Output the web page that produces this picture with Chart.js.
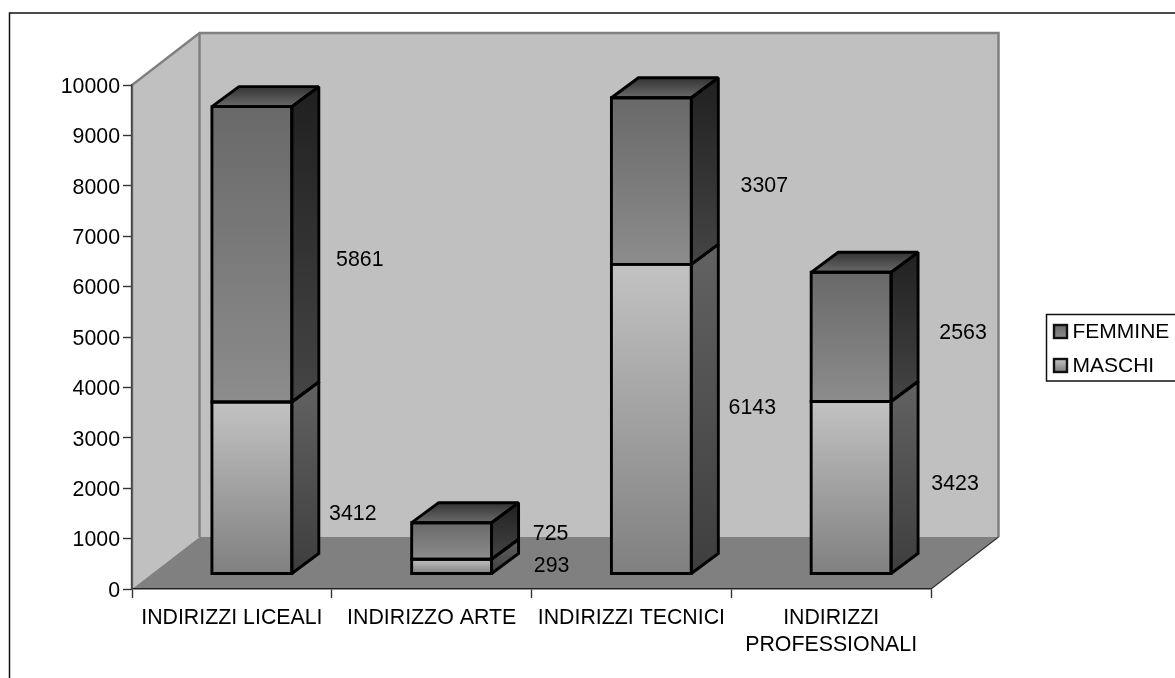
<!DOCTYPE html>
<html>
<head>
<meta charset="utf-8">
<style>html,body{margin:0;padding:0;background:#fff;overflow:hidden}#w{position:relative;width:1175px;height:678px}</style>
<script src="https://cdn.jsdelivr.net/npm/chart.js@4"></script>
</head>
<body>
<div id="w"><canvas id="c" width="1175" height="678"></canvas></div>
<script>
const categories = ['INDIRIZZI LICEALI', 'INDIRIZZO ARTE', 'INDIRIZZI TECNICI', ['INDIRIZZI', 'PROFESSIONALI']];
const seriesNames = ['MASCHI', 'FEMMINE'];
const maschi = [3412, 293, 6143, 3423];
const femmine = [5861, 725, 3307, 2563];
const yTicksMax = 10000;
const yTickStep = 1000;

// style and layout constants
const FONT = 'Liberation Sans, Arial, sans-serif';
const FS = 21.33;
const INK = '#000';
const WALL = {dx: 67.5, dy: -52, fill: '#c0c0c0', edge: '#808080'};
const BAR_SHIFT = {x: 20, y: -15};
const BAR_DEPTH = {x: 27, y: -20};
const labelDx = [[61, 60, 61, 64], [68, 59, 73, 72]];
const labelDy = [[26, 0, -11, -3], [6, -7, 5, -4]];
const FRONT = [['#c2c2c2', '#808080'], ['#696969', '#8c8c8c']];
const SIDE = [['#626262', '#3e3e3e'], ['#202020', '#454545']];
const TOP_FACE = ['#333333', '#6a6a6a'];
const SWATCH = [['#c0c0c0', '#808080'], ['#6a6a6a', '#8c8c8c']];

const seriesValues = [maschi, femmine];
function stackBase(ds, i) { let s = 0; for (let k = 0; k < ds; k++) s += seriesValues[k][i]; return s; }

function frontGradient(di) {
  return function (c) {
    const chart = c.chart, y = chart.scales.y;
    if (!y || c.dataIndex === undefined) return FRONT[di][1];
    const b = stackBase(di, c.dataIndex);
    const g = chart.ctx.createLinearGradient(0, y.getPixelForValue(b + seriesValues[di][c.dataIndex]), 0, y.getPixelForValue(b));
    g.addColorStop(0, FRONT[di][0]); g.addColorStop(1, FRONT[di][1]);
    return g;
  };
}
function poly(ctx, pts) { ctx.beginPath(); pts.forEach((p, i) => i ? ctx.lineTo(p[0], p[1]) : ctx.moveTo(p[0], p[1])); ctx.closePath(); }
function lin(ctx, y0, y1, cols) { const g = ctx.createLinearGradient(0, y0, 0, y1); g.addColorStop(0, cols[0]); g.addColorStop(1, cols[1]); return g; }

const stage = {
  id: 'stage',
  afterLayout(chart) {
    const l = chart.legend;
    const w = l.width;
    l.left = 1039; l.top = 308.5; l.right = l.left + w; l.bottom = l.top + 95;
  },
  beforeDraw(chart) {
    const ctx = chart.ctx, {left, right, top, bottom} = chart.chartArea;
    const dx = WALL.dx, dy = WALL.dy;
    ctx.save();
    // outer frame
    ctx.strokeStyle = '#111'; ctx.lineWidth = 1.5;
    ctx.beginPath(); ctx.moveTo(9.5, 678); ctx.lineTo(9.5, 13); ctx.lineTo(1175, 13); ctx.stroke();
    // walls
    ctx.fillStyle = WALL.fill; ctx.strokeStyle = WALL.edge; ctx.lineWidth = 2.5; ctx.lineJoin = 'miter';
    poly(ctx, [[left, bottom], [left, top], [left + dx, top + dy], [left + dx, bottom + dy]]); ctx.fill();
    poly(ctx, [[left + dx, bottom + dy], [left + dx, top + dy], [right + dx, top + dy], [right + dx, bottom + dy]]); ctx.fill();
    ctx.beginPath();
    ctx.moveTo(left, bottom); ctx.lineTo(left, top); ctx.lineTo(left + dx, top + dy);
    ctx.lineTo(right + dx, top + dy); ctx.lineTo(right + dx, bottom + dy); ctx.stroke();
    ctx.beginPath(); ctx.moveTo(left + dx, top + dy); ctx.lineTo(left + dx, bottom + dy); ctx.stroke();
    // floor
    ctx.fillStyle = WALL.edge;
    poly(ctx, [[left, bottom], [left + dx, bottom + dy], [right + dx, bottom + dy], [right, bottom]]); ctx.fill();
    ctx.strokeStyle = '#333'; ctx.lineWidth = 1.2;
    ctx.beginPath(); ctx.moveTo(right, bottom); ctx.lineTo(right + dx, bottom + dy); ctx.stroke();
    ctx.restore();
  },
  beforeDatasetsDraw(chart) {
    const ctx = chart.ctx;
    ctx.save();
    ctx.translate(BAR_SHIFT.x, BAR_SHIFT.y);
    const dx = BAR_DEPTH.x, dy = BAR_DEPTH.y;
    seriesValues.forEach((vals, di) => {
      chart.getDatasetMeta(di).data.forEach(el => {
        const p = el.getProps(['x', 'y', 'base', 'width'], true);
        const r = p.x + p.width / 2, l = p.x - p.width / 2;
        ctx.fillStyle = lin(ctx, p.y + dy, p.base, SIDE[di]);
        poly(ctx, [[r, p.base], [r, p.y], [r + dx, p.y + dy], [r + dx, p.base + dy]]); ctx.fill();
        if (di === seriesValues.length - 1) {
          ctx.fillStyle = lin(ctx, p.y + dy, p.y, TOP_FACE);
          poly(ctx, [[l, p.y], [l + dx, p.y + dy], [r + dx, p.y + dy], [r, p.y]]); ctx.fill();
        }
      });
    });
    // the bars themselves are painted by Chart.js inside this translated space
  },
  afterDatasetsDraw(chart) {
    const ctx = chart.ctx;
    const dx = BAR_DEPTH.x, dy = BAR_DEPTH.y;
    ctx.strokeStyle = '#000'; ctx.lineWidth = 2.9; ctx.lineJoin = 'miter'; ctx.miterLimit = 2; ctx.lineCap = 'butt';
    seriesValues.forEach((vals, di) => {
      chart.getDatasetMeta(di).data.forEach(el => {
        const p = el.getProps(['x', 'y', 'base', 'width'], true);
        const r = p.x + p.width / 2, l = p.x - p.width / 2;
        poly(ctx, [[l, p.base], [l, p.y], [r, p.y], [r, p.base]]); ctx.stroke();
        poly(ctx, [[r, p.base], [r, p.y], [r + dx, p.y + dy], [r + dx, p.base + dy]]); ctx.stroke();
        if (di === seriesValues.length - 1) {
          poly(ctx, [[l, p.y], [l + dx, p.y + dy], [r + dx, p.y + dy], [r, p.y]]); ctx.stroke();
        }
      });
    });
    ctx.restore();
    // value labels
    ctx.save();
    ctx.font = FS + 'px ' + FONT; ctx.fillStyle = INK; ctx.textAlign = 'center'; ctx.textBaseline = 'middle';
    seriesValues.forEach((vals, di) => {
      chart.getDatasetMeta(di).data.forEach((el, i) => {
        const p = el.getProps(['x', 'y', 'base', 'width'], true);
        const x = p.x + BAR_SHIFT.x + p.width / 2 + labelDx[di][i];
        const y = (p.y + p.base) / 2 + BAR_SHIFT.y + labelDy[di][i];
        ctx.fillText(String(vals[i]), x, y);
      });
    });
    ctx.restore();
  },
  afterDraw(chart) {
    const ctx = chart.ctx;
    ctx.save();
    // legend frame, open on the right like the cropped reference
    ctx.strokeStyle = '#111'; ctx.lineWidth = 1.5;
    ctx.beginPath(); ctx.moveTo(1175, 314.5); ctx.lineTo(1046.5, 314.5); ctx.lineTo(1046.5, 381); ctx.lineTo(1175, 381); ctx.stroke();
    // legend swatches
    [[1, 331.5], [0, 365.5]].forEach(([di, cy]) => {
      ctx.fillStyle = lin(ctx, cy - 6, cy + 6, SWATCH[di]);
      ctx.fillRect(1054, cy - 6.5, 13, 13);
      ctx.strokeStyle = '#111'; ctx.lineWidth = 2.4;
      ctx.strokeRect(1054, cy - 6.5, 13, 13);
    });
    ctx.restore();
  }
};

Chart.defaults.font.family = FONT;
new Chart(document.getElementById('c'), {
  type: 'bar',
  plugins: [stage],
  data: {
    labels: categories,
    datasets: seriesNames.map((name, di) => ({
      label: name,
      data: seriesValues[di],
      backgroundColor: frontGradient(di),
      borderWidth: 0,
      barPercentage: 0.4,
      categoryPercentage: 1,
      clip: false
    }))
  },
  options: {
    responsive: false,
    animation: false,
    layout: {padding: {left: 0, top: 85, right: 244, bottom: 0}},
    plugins: {
      title: {display: false},
      tooltip: {enabled: false},
      legend: {
        position: 'chartArea',
        align: 'start',
        labels: {
          color: INK,
          font: {size: 21, family: FONT, lineHeight: 1.2},
          boxWidth: 10,
          boxHeight: 10,
          padding: 13,
          generateLabels: chart => [1, 0].map(di => ({
            text: seriesNames[di], fillStyle: 'rgba(0,0,0,0)', strokeStyle: 'rgba(0,0,0,0)', lineWidth: 0, datasetIndex: di, fontColor: INK
          }))
        }
      }
    },
    scales: {
      x: {
        stacked: true,
        afterFit(s) { s.height = 89; },
        grid: {display: true, drawOnChartArea: false, drawTicks: true, tickLength: 9, color: '#333', offset: true, tickWidth: 1.4},
        border: {display: true, color: '#222', width: 1.6},
        ticks: {color: INK, font: {size: FS, family: FONT, lineHeight: 1.28}, padding: 6, maxRotation: 0, minRotation: 0, autoSkip: false}
      },
      y: {
        stacked: true,
        min: 0,
        max: yTicksMax,
        afterFit(s) { s.width = 132; },
        grid: {display: true, drawOnChartArea: false, drawTicks: true, tickLength: 9, color: '#333', tickWidth: 1.4},
        border: {display: true, color: '#444', width: 1.6},
        ticks: {color: INK, stepSize: yTickStep, font: {size: FS, family: FONT}, padding: 3, autoSkip: false, labelOffset: 2, callback: v => String(v)}
      }
    }
  }
});
</script>
</body>
</html>
